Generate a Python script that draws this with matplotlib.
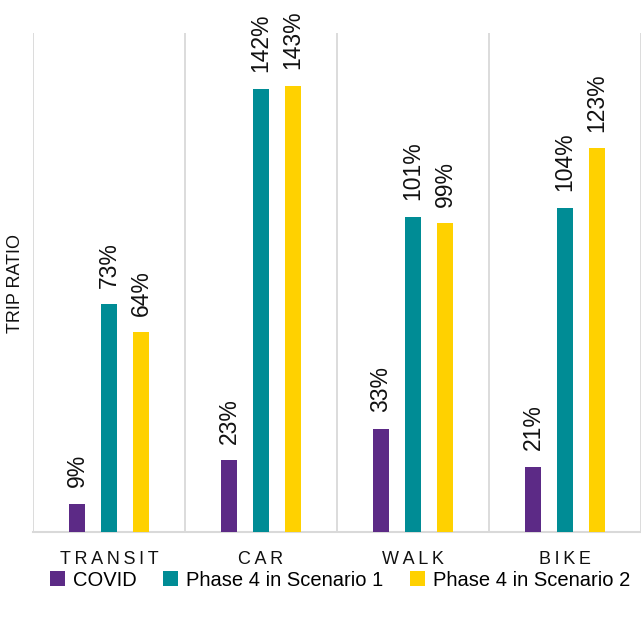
import numpy as np
import matplotlib
matplotlib.use('Agg')
import matplotlib.pyplot as plt

# Data (trip ratio, %)
modes = ['TRANSIT', 'CAR', 'WALK', 'BIKE']
covid = [9, 23, 33, 21]
scenario1 = [73, 142, 101, 104]
scenario2 = [64, 143, 99, 123]
series_names = ['COVID', 'Phase 4 in Scenario 1', 'Phase 4 in Scenario 2']
series_colors = ['#5C2A86', '#008C95', '#FFD100']

plt.rcParams['font.family'] = ['Liberation Sans', 'DejaVu Sans']

fig = plt.figure(figsize=(6.41, 6.2), dpi=100)
ax = fig.add_axes([33 / 641, 1 - 532 / 620, 1 - 33 / 641, (532 - 33) / 620])

x = np.arange(len(modes))
offsets = [-0.21, 0.0, 0.21]
width = 0.11

for vals, off, name, col in zip([covid, scenario1, scenario2], offsets, series_names, series_colors):
    bars = ax.bar(x + off, vals, width, color=col, label=name, zorder=3)
    for b, v in zip(bars, vals):
        ax.annotate(f'{v}%', (b.get_x() + b.get_width() / 2, v),
                    xytext=(0, 12), textcoords='offset points',
                    rotation=90, ha='center', va='bottom', fontsize=16.5, color='#111111')

ax.set_xlim(-0.5, len(modes) - 0.5)
ax.set_ylim(0, 160)

# category separators
ax.set_xticks(np.arange(-0.5, len(modes)), minor=True)
ax.grid(axis='x', which='minor', color='#D9D9D9', linewidth=1.3, zorder=0)
ax.tick_params(axis='x', which='minor', length=0)

ax.set_xticks(x)
ax.set_xticklabels(['\u2009'.join(m) for m in modes], fontsize=13, color='#111111')
ax.tick_params(axis='x', which='major', length=0, pad=14)
ax.set_yticks([])

for side in ['top', 'right', 'left']:
    ax.spines[side].set_visible(False)
ax.spines['bottom'].set_color('#D9D9D9')
ax.spines['bottom'].set_linewidth(1.5)

fig.text(16 / 641, 1 - 283 / 620, 'TRIP RATIO', rotation=90, ha='center', va='center',
         fontsize=13, color='#111111')

fig.legend(loc='center', bbox_to_anchor=(340 / 641, 1 - 580 / 620), ncol=3, frameon=False,
           fontsize=14.5, handlelength=0.75, handleheight=0.75, handletextpad=0.4,
           columnspacing=1.3, borderpad=0, borderaxespad=0)

fig.savefig('out.png', dpi=100)
